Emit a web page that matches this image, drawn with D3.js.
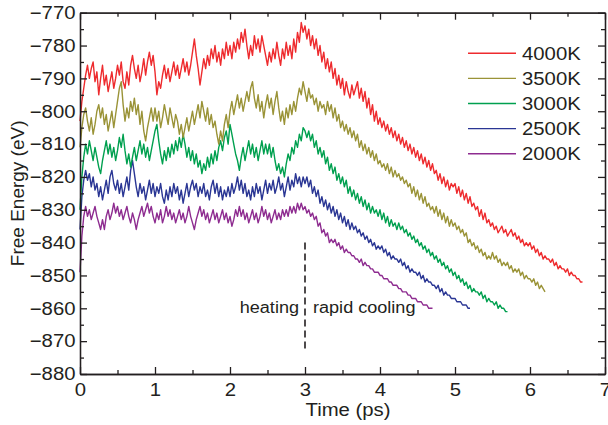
<!DOCTYPE html>
<html>
<head>
<meta charset="utf-8">
<script src="https://cdn.jsdelivr.net/npm/d3@7"></script>
<style>
  body { margin: 0; background: #fff; }
  svg text { font-family: "Liberation Sans", Arial, sans-serif; fill: #231f20; }
</style>
</head>
<body>
<script>
var margin = { top: 12.7, right: 3, bottom: 51, left: 80 },
    W = 608, H = 425,
    width = W - margin.left - margin.right,
    height = H - margin.top - margin.bottom,
    sx = 1.13,  // the reference glyphs look a bit wide
    dt = 0.025  // ps between samples

var temps = ["4000K", "3500K", "3000K", "2500K", "2000K"],
    colors = ["#ee2b2e", "#9a9337", "#00a04f", "#2a3694", "#8e2c90"]

// free energy (eV), one sample every 0.025 ps starting at 0
var e4000 = [
  -803,-797,-793,-789,-786,-790,-787,-785,-791,-788, -795,-790,-786,-792,-789,-794,-791,-788,-793,-790,
  -786,-789,-785,-791,-793,-788,-792,-786,-783,-787, -790,-786,-791,-788,-784,-789,-785,-782,-786,-783,
  -788,-795,-791,-793,-789,-786,-790,-787,-791,-788, -785,-789,-786,-790,-787,-784,-788,-785,-789,-786,
  -782,-778,-783,-787,-792,-788,-784,-787,-783,-786, -781,-784,-780,-785,-782,-786,-781,-784,-779,-783,
  -780,-784,-779,-782,-778,-781,-776,-779,-775,-780, -784,-780,-783,-777,-781,-778,-782,-777,-780,-783,
  -786,-782,-785,-781,-784,-779,-783,-786,-781,-784, -779,-783,-780,-784,-778,-782,-776,-779,-773,-776,
  -774,-778,-775,-780,-777,-781,-778,-783,-780,-785, -782,-787,-784,-788,-785,-790,-787,-792,-789,-793,
  -790,-795,-791,-794,-796,-792,-795,-793,-791,-796, -793,-797,-794,-799,-796,-801,-798,-803,-800,-804,
  -802,-805,-803,-806,-804,-807,-805,-808,-806,-809, -807,-810,-808,-811,-809,-812,-810,-813,-811,-814,
  -812,-815,-813,-816,-814,-817,-815,-818,-816,-819, -818,-821,-819,-822,-820,-823,-821,-824,-822,-823,
  -822,-825,-823,-826,-824,-827,-825,-828,-826,-829, -828,-830,-829,-832,-830,-833,-831,-834,-833,-835,
  -834,-836,-835,-837,-836,-835,-837,-836,-838,-837, -836,-838,-837,-839,-838,-840,-839,-841,-840,-841,
  -840,-842,-841,-843,-842,-844,-843,-845,-844,-845, -845,-846,-845,-847,-846,-848,-847,-848,-848,-849,
  -848,-850,-849,-850,-850,-851,-851,-852,-852]
var e3500 = [
  -811,-805,-801,-799,-803,-806,-802,-807,-804,-800, -798,-802,-799,-804,-801,-806,-803,-800,-805,-801,
  -797,-793,-791,-798,-803,-799,-802,-797,-800,-796, -801,-798,-804,-800,-806,-809,-805,-802,-799,-803,
  -799,-803,-800,-805,-802,-798,-801,-804,-799,-802, -805,-801,-803,-807,-804,-808,-805,-802,-806,-803,
  -800,-804,-801,-798,-802,-797,-800,-803,-799,-804, -801,-805,-803,-807,-810,-806,-809,-804,-801,-805,
  -800,-797,-801,-798,-795,-799,-796,-800,-797,-794, -797,-793,-791,-796,-799,-795,-800,-797,-802,-798,
  -795,-799,-796,-801,-797,-794,-799,-803,-800,-804, -799,-802,-798,-801,-797,-800,-796,-793,-795,-791,
  -794,-797,-793,-796,-795,-798,-796,-800,-797,-799, -798,-801,-797,-800,-798,-802,-799,-803,-801,-805,
  -803,-806,-804,-807,-805,-808,-806,-809,-807,-811, -809,-812,-810,-813,-811,-814,-812,-815,-813,-816,
  -815,-817,-816,-818,-816,-819,-817,-820,-818,-820, -819,-821,-820,-822,-821,-823,-822,-825,-823,-826,
  -824,-827,-825,-828,-826,-829,-828,-830,-829,-831, -829,-832,-830,-833,-831,-834,-832,-835,-833,-835,
  -834,-836,-835,-837,-836,-838,-837,-840,-839,-841, -840,-842,-841,-843,-842,-844,-843,-845,-844,-845,
  -843,-845,-844,-846,-845,-847,-846,-847,-846,-848, -847,-849,-848,-849,-848,-850,-849,-851,-850,-851,
  -851,-852,-851,-853,-852,-854,-853,-854,-855]
var e3000 = [
  -830,-820,-814,-810,-813,-809,-812,-815,-811,-814, -817,-819,-815,-812,-809,-813,-810,-814,-811,-815,
  -812,-808,-811,-807,-812,-816,-813,-817,-814,-811, -815,-812,-809,-813,-810,-814,-811,-815,-812,-809,
  -806,-804,-809,-813,-816,-812,-815,-811,-814,-810, -813,-809,-812,-808,-811,-807,-810,-814,-811,-815,
  -812,-816,-813,-817,-815,-819,-816,-818,-814,-817, -813,-816,-812,-815,-811,-809,-812,-808,-806,-810,
  -804,-807,-810,-813,-815,-818,-814,-811,-815,-812, -809,-813,-810,-814,-811,-815,-812,-809,-813,-810,
  -813,-810,-814,-811,-815,-818,-816,-819,-817,-820, -816,-813,-815,-811,-813,-809,-811,-807,-809,-805,
  -806,-808,-806,-809,-807,-811,-809,-813,-811,-814, -812,-816,-814,-818,-816,-819,-817,-821,-819,-822,
  -820,-823,-821,-825,-823,-826,-824,-827,-825,-828, -826,-829,-827,-830,-828,-831,-829,-831,-830,-832,
  -830,-833,-831,-834,-832,-835,-833,-835,-834,-836, -834,-836,-835,-837,-836,-838,-837,-839,-838,-840,
  -839,-841,-840,-842,-841,-843,-842,-844,-843,-845, -844,-846,-845,-847,-846,-848,-847,-849,-848,-850,
  -849,-851,-850,-852,-851,-853,-852,-854,-853,-855, -854,-855,-855,-856,-855,-857,-856,-858,-857,-858,
  -858,-859,-858,-860,-859,-860,-860,-861,-861]
var e2500 = [
  -836,-826,-821,-818,-821,-819,-823,-820,-824,-822, -826,-823,-827,-824,-821,-825,-820,-818,-822,-824,
  -821,-825,-822,-826,-823,-820,-824,-818,-815,-819, -823,-826,-822,-825,-823,-827,-824,-821,-825,-822,
  -826,-823,-825,-822,-826,-828,-824,-827,-823,-826, -822,-825,-823,-827,-824,-828,-825,-822,-826,-823,
  -821,-824,-822,-826,-823,-825,-822,-826,-824,-827, -823,-821,-825,-822,-826,-823,-827,-824,-826,-823,
  -826,-822,-825,-823,-820,-824,-821,-825,-822,-826, -824,-827,-823,-826,-822,-825,-823,-827,-824,-821,
  -825,-822,-824,-821,-825,-823,-820,-824,-822,-826, -823,-820,-824,-821,-823,-819,-822,-820,-823,-820,
  -822,-820,-823,-821,-825,-823,-826,-824,-828,-826, -829,-827,-830,-828,-831,-829,-832,-830,-833,-831,
  -834,-832,-835,-833,-836,-834,-836,-835,-837,-836, -838,-837,-839,-838,-840,-839,-841,-840,-842,-841,
  -842,-841,-843,-842,-844,-843,-845,-844,-845,-845, -846,-845,-847,-846,-848,-847,-849,-848,-849,-849,
  -850,-849,-851,-850,-852,-851,-852,-852,-853,-853, -854,-853,-855,-854,-856,-855,-856,-856,-857,-857,
  -857,-858,-858,-858,-859,-859,-859,-860,-860]
var e2000 = [
  -849,-838,-832,-829,-832,-830,-833,-831,-829,-832, -834,-836,-833,-836,-832,-830,-833,-831,-828,-831,
  -829,-832,-830,-833,-831,-829,-832,-834,-831,-833, -836,-833,-831,-829,-832,-830,-828,-831,-829,-832,
  -834,-831,-833,-830,-834,-832,-829,-832,-830,-833, -831,-834,-832,-830,-833,-831,-834,-832,-829,-832,
  -834,-836,-833,-831,-829,-832,-830,-833,-831,-834, -832,-830,-833,-831,-834,-832,-830,-833,-831,-834,
  -832,-835,-833,-830,-832,-829,-832,-830,-833,-831, -834,-832,-830,-833,-831,-834,-832,-829,-832,-830,
  -833,-831,-834,-832,-830,-833,-831,-833,-830,-832, -830,-832,-829,-831,-829,-831,-828,-830,-828,-830,
  -829,-831,-830,-832,-831,-833,-832,-835,-834,-837, -836,-838,-837,-840,-839,-840,-839,-841,-840,-842,
  -841,-843,-842,-843,-843,-844,-844,-845,-845,-846, -845,-847,-846,-847,-847,-848,-848,-849,-849,-849,
  -850,-850,-851,-851,-851,-852,-852,-853,-853,-853, -854,-854,-855,-855,-855,-856,-856,-857,-857,-857,
  -858,-858,-858,-859,-859,-859,-860,-860,-860]

var series = [e4000, e3500, e3000, e2500, e2000]

var xTicks = [0, 1, 2, 3, 4, 5, 6, 7],
    xMinor = [0.5, 1.5, 2.5, 3.5, 4.5, 5.5, 6.5],
    yTicks = d3.range(-880, -769, 10),
    yMinor = d3.range(-875, -770, 10)

var svg = d3.select("body").append("svg")
    .attr("width", W)
    .attr("height", H)
    .append("g")
    .attr("transform", "translate(" + margin.left + "," + margin.top + ")")

var x = d3.scaleLinear().domain([0, 7]).range([0, width])
var y = d3.scaleLinear().domain([-880, -770]).range([height, 0])

var line = d3.line()
    .x(function(d, i) { return x(i * dt) })
    .y(function(d) { return y(d) })

// curves, coolest drawn last so it sits on top like the reference
series.slice().reverse().forEach(function(s, k) {
  var i = series.length - 1 - k
  svg.append("path")
    .datum(s)
    .attr("fill", "none")
    .attr("stroke", colors[i])
    .attr("stroke-width", 1.4)
    .attr("stroke-linejoin", "round")
    .attr("d", line)
})

function styleAxis(g) {
  g.selectAll("path, line").attr("stroke", "#231f20").attr("stroke-width", 1.3)
  g.selectAll("text").style("font-size", "18px").attr("fill", "#231f20")
}

function stretch(g) {
  g.selectAll("text").attr("transform", "scale(" + sx + ",1)")
}

// major + minor ticks on all four sides, pointing inward
var bottom = svg.append("g").attr("transform", "translate(0," + height + ")")
  .call(d3.axisBottom(x).tickValues(xTicks).tickSize(-7).tickSizeOuter(0).tickPadding(9)
    .tickFormat(d3.format("d")))
bottom.call(styleAxis).call(stretch)
svg.append("g").attr("transform", "translate(0," + height + ")")
  .call(d3.axisBottom(x).tickValues(xMinor).tickSize(-4).tickSizeOuter(0).tickFormat(""))
  .call(styleAxis)

var left = svg.append("g")
  .call(d3.axisLeft(y).tickValues(yTicks).tickSize(-7).tickSizeOuter(0).tickPadding(4)
    .tickFormat(d3.format("d")))
left.call(styleAxis).call(stretch)
svg.append("g")
  .call(d3.axisLeft(y).tickValues(yMinor).tickSize(-4).tickSizeOuter(0).tickFormat(""))
  .call(styleAxis)

svg.append("g")
  .call(d3.axisTop(x).tickValues(xTicks).tickSize(-7).tickSizeOuter(0).tickFormat(""))
  .call(styleAxis)
svg.append("g")
  .call(d3.axisTop(x).tickValues(xMinor).tickSize(-4).tickSizeOuter(0).tickFormat(""))
  .call(styleAxis)
svg.append("g").attr("transform", "translate(" + width + ",0)")
  .call(d3.axisRight(y).tickValues(yTicks).tickSize(-7).tickSizeOuter(0).tickFormat(""))
  .call(styleAxis)
svg.append("g").attr("transform", "translate(" + width + ",0)")
  .call(d3.axisRight(y).tickValues(yMinor).tickSize(-4).tickSizeOuter(0).tickFormat(""))
  .call(styleAxis)

// axis titles
svg.append("g")
  .attr("transform", "translate(" + (268) + "," + (height + 42) + ") scale(" + sx + ",1)")
  .append("text")
  .attr("text-anchor", "middle")
  .style("font-size", "18px")
  .text("Time (ps)")

svg.append("text")
  .attr("transform", "translate(-56," + (height / 2) + ") rotate(-90)")
  .attr("text-anchor", "middle")
  .style("font-size", "19px")
  .text("Free Energy (eV)")

// heating / cooling divider
svg.append("line")
  .attr("x1", x(3)).attr("x2", x(3))
  .attr("y1", y(-840)).attr("y2", y(-872.5))
  .attr("stroke", "#231f20")
  .attr("stroke-width", 1.6)
  .attr("stroke-dasharray", "7,4")

svg.append("g")
  .attr("transform", "translate(" + (x(3) - 6) + "," + (313 - margin.top) + ") scale(" + sx + ",1)")
  .append("text")
  .attr("text-anchor", "end")
  .style("font-size", "16px")
  .text("heating")
svg.append("g")
  .attr("transform", "translate(" + (x(3) + 8) + "," + (313 - margin.top) + ") scale(" + sx + ",1)")
  .append("text")
  .style("font-size", "16px")
  .text("rapid cooling")

// legend
var legend = svg.selectAll(".legend")
    .data(temps)
    .enter().append("g")
    .attr("class", "legend")
    .attr("transform", function(d, i) { return "translate(388," + (40.6 + i * 25.1) + ")" })

legend.append("line")
  .attr("x1", 0).attr("x2", 48)
  .attr("stroke", function(d, i) { return colors[i] })
  .attr("stroke-width", 1.4)

legend.append("g")
  .attr("transform", "translate(54,0) scale(" + sx + ",1)")
  .append("text")
  .attr("dy", "0.36em")
  .style("font-size", "18px")
  .text(function(d) { return d })
</script>
</body>
</html>
